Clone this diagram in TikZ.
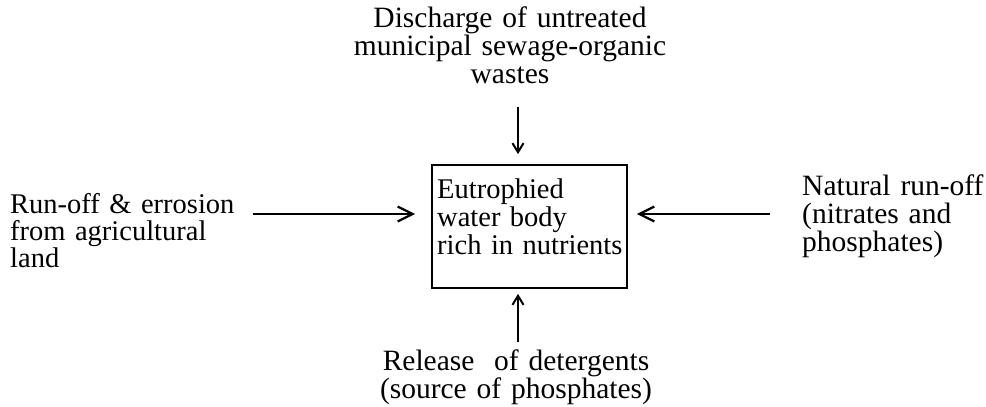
\documentclass[tikz,border=0pt]{standalone}
\usepackage{fontspec}
\setmainfont{Liberation Serif}
\usetikzlibrary{arrows.meta}
\begin{document}
\begin{tikzpicture}[x=1pt,y=-1pt,
  lbl/.style={inner sep=0pt, font=\fontsize{29.5}{28}\selectfont},
  box/.style={draw, line width=1.8pt, minimum width=195pt, minimum height=123pt, inner sep=0pt},
  harr/.style={line width=1.8pt, -{Straight Barb[length=15pt,width=15pt,line width=2.2pt]}},
  varr/.style={line width=1.8pt, -{Straight Barb[length=9pt,width=11pt,line width=2pt]}}]
\useasboundingbox (0,0) rectangle (986,407);
\node[box] (box) at (529.5,226.5) {};
\node[lbl, anchor=base west, text width=260pt, align=left, font=\fontsize{28.5}{28}\selectfont] (boxtxt) at (437,198)
  {Eutrophied\\water body\\rich in nutrients};
\node[lbl, anchor=base, text width=340pt, align=center] (top) at (510,27)
  {Discharge of untreated\\municipal sewage-organic\\wastes};
\node[lbl, anchor=base, text width=300pt, align=center] (bot) at (516,370)
  {Release\ \ of detergents\\(source of phosphates)};
\node[lbl, anchor=base west, text width=240pt, align=left, font=\fontsize{28.5}{27}\selectfont] (left) at (10,213)
  {Run-off \& errosion\\from agricultural\\land};
\node[lbl, anchor=base west, text width=184pt, align=left] (right) at (802,195)
  {Natural run-off\\(nitrates and\\phosphates)};
\coordinate (ls) at (253,214);
\coordinate (rs) at (770,214);
\coordinate (ts) at (518,107);
\coordinate (bs) at (518,342);
\draw[harr, shorten >=16pt] (ls) -- (ls -| box.west);
\draw[harr, shorten >=9pt] (rs) -- (rs -| box.east);
\draw[varr, shorten >=10pt] (ts) -- (ts |- box.north);
\draw[varr, shorten >=5pt] (bs) -- (bs |- box.south);
\end{tikzpicture}
\end{document}
